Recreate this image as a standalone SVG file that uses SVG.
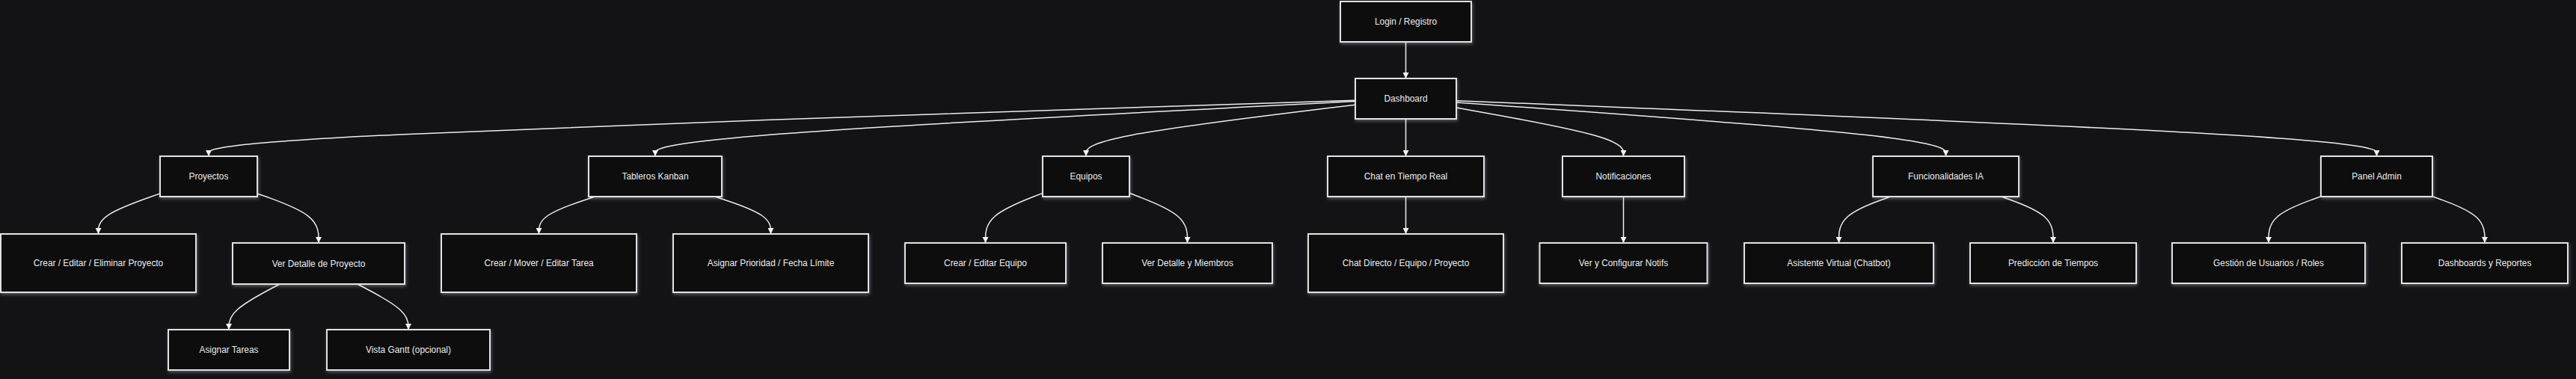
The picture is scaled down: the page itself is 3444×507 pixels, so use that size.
<svg xmlns="http://www.w3.org/2000/svg" width="3444" height="507" viewBox="0 0 3444 507">
<style>
.bg{fill:#131315}
.node rect{fill:#0c0c0c;stroke:#e2e2e2;stroke-width:2;filter:url(#glow)}
.node text{fill:#ececec;font-family:"Liberation Sans",Arial,sans-serif;font-size:13.5px;text-anchor:middle;transform-box:fill-box;transform-origin:center;transform:scaleX(0.88)}
.edges path{fill:none;stroke:#ededed;stroke-width:1.5}
</style>
<defs>
<filter id="glow" x="-20%" y="-30%" width="140%" height="160%">
<feDropShadow dx="1" dy="2" stdDeviation="2" flood-color="#dfe3ff" flood-opacity="0.35"/>
</filter>
<marker id="arr" viewBox="0 0 10 10" refX="10" refY="5" markerUnits="userSpaceOnUse" markerWidth="8" markerHeight="8" orient="auto">
<path d="M0,0 L10,5 L0,10 z" fill="#f4f4f4" stroke="none"/>
</marker>
</defs>
<rect class="bg" x="0" y="0" width="3444" height="507"/>
<g id="connectors" class="edges">
<path marker-end="url(#arr)" d="M1879.5,56 L1879.5,105"/>
<path marker-end="url(#arr)" d="M1812,134.2 L1556.5,142.5 C1301,150.8 790,167.4 534.5,179.9 C279,192.3 279,200.7 279,204.8 L279,209"/>
<path marker-end="url(#arr)" d="M1812,135.5 L1656,143.6 C1500,151.7 1188,167.8 1032,180.1 C876,192.3 876,200.7 876,204.8 L876,209"/>
<path marker-end="url(#arr)" d="M1812,140.2 L1752,147.5 C1692,154.8 1572,169.4 1512,180.9 C1452,192.3 1452,200.7 1452,204.8 L1452,209"/>
<path marker-end="url(#arr)" d="M1879.5,159 L1879.5,209"/>
<path marker-end="url(#arr)" d="M1947,144.1 L1984.25,150.75 C2021.5,157.4 2096,170.7 2133.25,181.5 C2170.5,192.3 2170.5,200.7 2170.5,204.8 L2170.5,209"/>
<path marker-end="url(#arr)" d="M1947,136.9 L2056.1,144.75 C2165.2,152.6 2383.3,168.3 2492.4,180.3 C2601.5,192.3 2601.5,200.7 2601.5,204.8 L2601.5,209"/>
<path marker-end="url(#arr)" d="M1947,134.7 L2152.1,142.9 C2357.2,151.1 2767.3,167.6 2972.4,180 C3177.5,192.3 3177.5,200.7 3177.5,204.8 L3177.5,209"/>
<path marker-end="url(#arr)" d="M214,258.9 L200.25,263.75 C186.5,268.6 159,278.3 145.25,287.3 C131.5,296.3 131.5,304.7 131.5,308.8 L131.5,313"/>
<path marker-end="url(#arr)" d="M344,259 L357.7,263.8 C371.3,268.7 398.7,278.3 412.3,289.3 C426,300.3 426,312.7 426,318.8 L426,325"/>
<path marker-end="url(#arr)" d="M795.3,263 L782.8,267.2 C770.4,271.3 745.4,279.7 733,288 C720.5,296.3 720.5,304.7 720.5,308.8 L720.5,313"/>
<path marker-end="url(#arr)" d="M956.2,263 L968.6,267.2 C981,271.3 1005.7,279.7 1018.1,288 C1030.5,296.3 1030.5,304.7 1030.5,308.8 L1030.5,313"/>
<path marker-end="url(#arr)" d="M1394,258.4 L1381.25,263.3 C1368.5,268.3 1343,278.1 1330.25,289.2 C1317.5,300.3 1317.5,312.7 1317.5,318.8 L1317.5,325"/>
<path marker-end="url(#arr)" d="M1510,258.3 L1522.9,263.3 C1535.8,268.2 1561.7,278.1 1574.6,289.2 C1587.5,300.3 1587.5,312.7 1587.5,318.8 L1587.5,325"/>
<path marker-end="url(#arr)" d="M1879.5,263 L1879.5,313"/>
<path marker-end="url(#arr)" d="M2170.5,263 L2170.5,325"/>
<path marker-end="url(#arr)" d="M2527.25,263 L2515.8,267.2 C2504.3,271.3 2481.4,279.7 2470,290 C2458.5,300.3 2458.5,312.7 2458.5,318.8 L2458.5,325"/>
<path marker-end="url(#arr)" d="M2676,263 L2687.5,267.2 C2699,271.3 2722,279.7 2733.5,290 C2745,300.3 2745,312.7 2745,318.8 L2745,325"/>
<path marker-end="url(#arr)" d="M3103,262.8 L3091.3,267 C3079.7,271.2 3056.3,279.6 3044.7,290 C3033,300.3 3033,312.7 3033,318.8 L3033,325"/>
<path marker-end="url(#arr)" d="M3252,262.8 L3263.7,267 C3275.3,271.2 3298.7,279.6 3310.3,290 C3322,300.3 3322,312.7 3322,318.8 L3322,325"/>
<path marker-end="url(#arr)" d="M374,380 L362.7,386 C351.3,392 328.7,404 317.3,414.2 C306,424.3 306,432.7 306,436.8 L306,441"/>
<path marker-end="url(#arr)" d="M478,380 L489.3,386 C500.7,392 523.3,404 534.7,414.2 C546,424.3 546,432.7 546,436.8 L546,441"/>
</g>
<g id="login" class="node"><rect x="1792" y="2" width="175" height="54"/><text x="1879.5" y="33.5">Login / Registro</text></g>
<g id="dashboard" class="node"><rect x="1812" y="105" width="135" height="54"/><text x="1879.5" y="136.5">Dashboard</text></g>
<g id="proyectos" class="node"><rect x="214" y="209" width="130" height="54"/><text x="279" y="240.5">Proyectos</text></g>
<g id="kanban" class="node"><rect x="787" y="209" width="178" height="54"/><text x="876" y="240.5">Tableros Kanban</text></g>
<g id="equipos" class="node"><rect x="1394" y="209" width="116" height="54"/><text x="1452" y="240.5">Equipos</text></g>
<g id="chat" class="node"><rect x="1775" y="209" width="209" height="54"/><text x="1879.5" y="240.5">Chat en Tiempo Real</text></g>
<g id="notificaciones" class="node"><rect x="2089" y="209" width="163" height="54"/><text x="2170.5" y="240.5">Notificaciones</text></g>
<g id="ia" class="node"><rect x="2504" y="209" width="195" height="54"/><text x="2601.5" y="240.5">Funcionalidades IA</text></g>
<g id="admin" class="node"><rect x="3103" y="209" width="149" height="54"/><text x="3177.5" y="240.5">Panel Admin</text></g>
<g id="crearProyecto" class="node"><rect x="1" y="313" width="261" height="78"/><text x="131.5" y="356.5">Crear / Editar / Eliminar Proyecto</text></g>
<g id="verDetalleProyecto" class="node"><rect x="311" y="325" width="230" height="55"/><text x="426" y="357">Ver Detalle de Proyecto</text></g>
<g id="crearTarea" class="node"><rect x="590" y="313" width="261" height="78"/><text x="720.5" y="356.5">Crear / Mover / Editar Tarea</text></g>
<g id="prioridad" class="node"><rect x="900" y="313" width="261" height="78"/><text x="1030.5" y="356.5">Asignar Prioridad / Fecha Límite</text></g>
<g id="crearEquipo" class="node"><rect x="1210" y="325" width="215" height="54"/><text x="1317.5" y="356.5">Crear / Editar Equipo</text></g>
<g id="miembros" class="node"><rect x="1474" y="325" width="227" height="54"/><text x="1587.5" y="356.5">Ver Detalle y Miembros</text></g>
<g id="chatDirecto" class="node"><rect x="1749" y="313" width="261" height="78"/><text x="1879.5" y="356.5">Chat Directo / Equipo / Proyecto</text></g>
<g id="configNotifs" class="node"><rect x="2058.5" y="325" width="224" height="54"/><text x="2170.5" y="356.5">Ver y Configurar Notifs</text></g>
<g id="chatbot" class="node"><rect x="2332" y="325" width="253" height="54"/><text x="2458.5" y="356.5">Asistente Virtual (Chatbot)</text></g>
<g id="prediccion" class="node"><rect x="2634" y="325" width="222" height="54"/><text x="2745" y="356.5">Predicción de Tiempos</text></g>
<g id="usuarios" class="node"><rect x="2904" y="325" width="258" height="54"/><text x="3033" y="356.5">Gestión de Usuarios / Roles</text></g>
<g id="reportes" class="node"><rect x="3211" y="325" width="222" height="54"/><text x="3322" y="356.5">Dashboards y Reportes</text></g>
<g id="asignarTareas" class="node"><rect x="225" y="441" width="162" height="54"/><text x="306" y="472.5">Asignar Tareas</text></g>
<g id="gantt" class="node"><rect x="437" y="441" width="218" height="54"/><text x="546" y="472.5">Vista Gantt (opcional)</text></g>
</svg>
